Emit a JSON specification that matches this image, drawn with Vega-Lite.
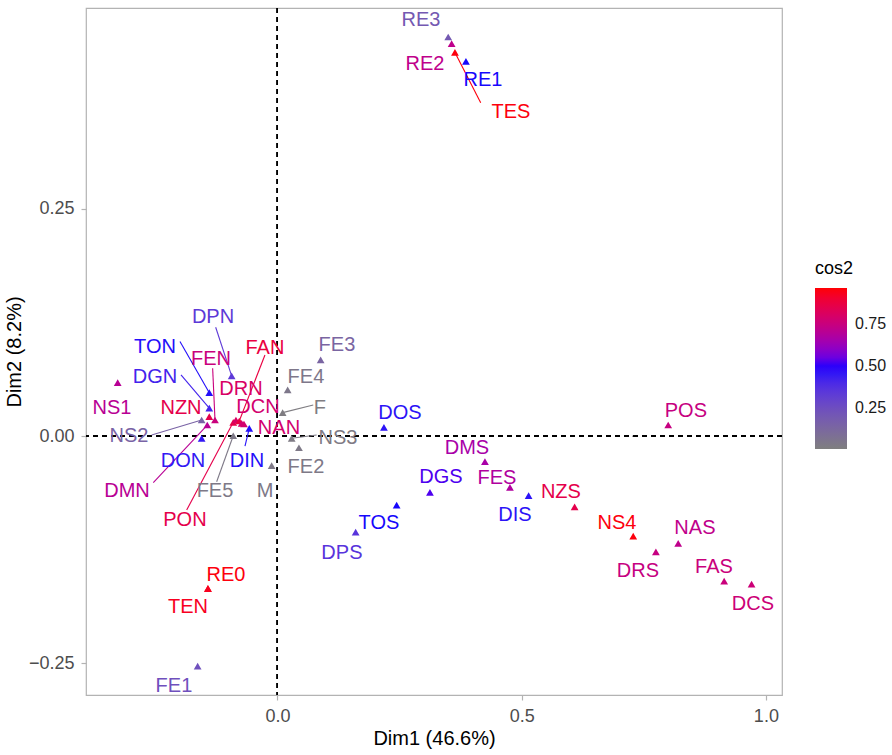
{
  "$schema": "https://vega.github.io/schema/vega-lite/v6.json",
  "width": 696,
  "height": 687,
  "autosize": "none",
  "padding": {"left": 86, "top": 8, "right": 110, "bottom": 60},
  "background": "white",
  "config": {
    "font": "Liberation Sans",
    "view": {"stroke": "#B3B3B3", "strokeWidth": 1.2},
    "axis": {
      "grid": false,
      "domain": false,
      "tickColor": "#B3B3B3",
      "tickSize": 5,
      "tickWidth": 1.2,
      "labelColor": "#4D4D4D",
      "labelFontSize": 18,
      "labelPadding": 7,
      "titleColor": "#000000",
      "titleFontSize": 20,
      "titleFontWeight": "normal"
    }
  },
  "resolve": {"legend": {"color": "independent", "fill": "independent", "stroke": "independent"}},
  "datasets": {
    "pts": [
      {"name": "RE3", "x": 0.3496, "y": 0.4391, "cos2": 0.20, "lx": 0.2938, "ly": 0.4581},
      {"name": "RE2", "x": 0.3566, "y": 0.4317, "cos2": 0.72, "lx": 0.3019, "ly": 0.4097},
      {"name": "TES", "x": 0.3634, "y": 0.4221, "cos2": 0.95, "lx": 0.4780, "ly": 0.3568, "sx": 0.4161, "sy": 0.3667},
      {"name": "RE1", "x": 0.3859, "y": 0.4122, "cos2": 0.48, "lx": 0.4207, "ly": 0.3921},
      {"name": "NS1", "x": -0.3271, "y": 0.0587, "cos2": 0.70, "lx": -0.3388, "ly": 0.0308},
      {"name": "DPN", "x": -0.0938, "y": 0.0661, "cos2": 0.34, "lx": -0.1320, "ly": 0.1311, "sx": -0.1265, "sy": 0.1197},
      {"name": "TON", "x": -0.1396, "y": 0.0477, "cos2": 0.47, "lx": -0.2508, "ly": 0.0980, "sx": -0.1996, "sy": 0.1039},
      {"name": "DGN", "x": -0.1396, "y": 0.0308, "cos2": 0.42, "lx": -0.2508, "ly": 0.0650, "sx": -0.1975, "sy": 0.0672},
      {"name": "NZN", "x": -0.1396, "y": 0.0213, "cos2": 0.85, "lx": -0.1975, "ly": 0.0308},
      {"name": "FEN", "x": -0.1279, "y": 0.0176, "cos2": 0.75, "lx": -0.1361, "ly": 0.0848, "sx": -0.1327, "sy": 0.0746},
      {"name": "NS2", "x": -0.1552, "y": 0.0176, "cos2": 0.15, "lx": -0.3040, "ly": 0.0, "sx": -0.2575, "sy": 0.0011},
      {"name": "DMN", "x": -0.1437, "y": 0.0121, "cos2": 0.70, "lx": -0.3081, "ly": -0.0606, "sx": -0.2542, "sy": -0.0514},
      {"name": "DON", "x": -0.1552, "y": -0.0025, "cos2": 0.45, "lx": -0.1934, "ly": -0.0275},
      {"name": "PON", "x": -0.0905, "y": 0.0151, "cos2": 0.85, "lx": -0.1894, "ly": -0.0925, "sx": -0.1859, "sy": -0.0815},
      {"name": "DRN", "x": -0.0850, "y": 0.0176, "cos2": 0.80, "lx": -0.0747, "ly": 0.0518},
      {"name": "FAN", "x": -0.0782, "y": 0.0165, "cos2": 0.87, "lx": -0.0256, "ly": 0.0969, "sx": -0.0256, "sy": 0.0892},
      {"name": "DCN", "x": -0.0733, "y": 0.0140, "cos2": 0.78, "lx": -0.0399, "ly": 0.0319},
      {"name": "NAN", "x": -0.0686, "y": 0.0132, "cos2": 0.78, "lx": 0.0031, "ly": 0.0088},
      {"name": "DIN", "x": -0.0577, "y": 0.0085, "cos2": 0.47, "lx": -0.0624, "ly": -0.0275, "sx": -0.0665, "sy": -0.0110},
      {"name": "FE5", "x": -0.0905, "y": 0.0003, "cos2": 0.04, "lx": -0.1279, "ly": -0.0606, "sx": -0.1245, "sy": -0.0503},
      {"name": "FE4", "x": 0.0209, "y": 0.0507, "cos2": 0.05, "lx": 0.0583, "ly": 0.0650},
      {"name": "FE3", "x": 0.0884, "y": 0.0837, "cos2": 0.14, "lx": 0.1218, "ly": 0.1002},
      {"name": "F", "x": 0.0106, "y": 0.0257, "cos2": 0.02, "lx": 0.0870, "ly": 0.0308, "sx": 0.0733, "sy": 0.0341},
      {"name": "NS3", "x": 0.0291, "y": -0.0025, "cos2": 0.03, "lx": 0.1238, "ly": -0.0022, "sx": 0.0802, "sy": 0.0011},
      {"name": "FE2", "x": 0.0440, "y": -0.0129, "cos2": 0.04, "lx": 0.0583, "ly": -0.0341},
      {"name": "M", "x": -0.0119, "y": -0.0327, "cos2": 0.04, "lx": -0.0256, "ly": -0.0606},
      {"name": "DOS", "x": 0.2180, "y": 0.0096, "cos2": 0.46, "lx": 0.2508, "ly": 0.0253},
      {"name": "DMS", "x": 0.4248, "y": -0.0283, "cos2": 0.66, "lx": 0.3879, "ly": -0.0132},
      {"name": "FES", "x": 0.4760, "y": -0.0565, "cos2": 0.68, "lx": 0.4493, "ly": -0.0463},
      {"name": "DIS", "x": 0.5142, "y": -0.0657, "cos2": 0.46, "lx": 0.4862, "ly": -0.0870},
      {"name": "NZS", "x": 0.6084, "y": -0.0779, "cos2": 0.85, "lx": 0.5803, "ly": -0.0617},
      {"name": "DGS", "x": 0.3122, "y": -0.0620, "cos2": 0.52, "lx": 0.3347, "ly": -0.0452},
      {"name": "TOS", "x": 0.2440, "y": -0.0760, "cos2": 0.48, "lx": 0.2078, "ly": -0.0958},
      {"name": "DPS", "x": 0.1601, "y": -0.1057, "cos2": 0.36, "lx": 0.1320, "ly": -0.1289},
      {"name": "POS", "x": 0.8000, "y": 0.0121, "cos2": 0.74, "lx": 0.8362, "ly": 0.0275},
      {"name": "NS4", "x": 0.7284, "y": -0.1101, "cos2": 0.95, "lx": 0.6950, "ly": -0.0958},
      {"name": "NAS", "x": 0.8205, "y": -0.1182, "cos2": 0.72, "lx": 0.8547, "ly": -0.1013},
      {"name": "DRS", "x": 0.7748, "y": -0.1274, "cos2": 0.74, "lx": 0.7380, "ly": -0.1487},
      {"name": "FAS", "x": 0.9146, "y": -0.1597, "cos2": 0.75, "lx": 0.8936, "ly": -0.1443},
      {"name": "DCS", "x": 0.9707, "y": -0.1630, "cos2": 0.76, "lx": 0.9734, "ly": -0.1850},
      {"name": "RE0", "x": -0.1423, "y": -0.1677, "cos2": 0.95, "lx": -0.1054, "ly": -0.1531},
      {"name": "TEN", "x": -0.1423, "y": -0.1680, "cos2": 0.93, "lx": -0.1832, "ly": -0.1883},
      {"name": "FE1", "x": -0.1634, "y": -0.2533, "cos2": 0.24, "lx": -0.2119, "ly": -0.2753}
    ]
  },
  "data": {"name": "pts"},
  "layer": [
    {
      "mark": {"type": "rule", "strokeDash": [5, 4], "color": "black", "strokeWidth": 1},
      "encoding": {
        "x": {"datum": 0, "type": "quantitative", "scale": {"domain": [-0.392, 1.033], "nice": false, "zero": false}}
      }
    },
    {
      "mark": {"type": "rule", "strokeDash": [5, 4], "color": "black", "strokeWidth": 1},
      "encoding": {
        "y": {"datum": 0, "type": "quantitative", "scale": {"domain": [-0.285, 0.471], "nice": false, "zero": false}}
      }
    },
    {
      "transform": [{"filter": "isValid(datum.sx)"}],
      "mark": {"type": "rule", "strokeWidth": 1.1},
      "encoding": {
        "x": {"field": "x", "type": "quantitative"},
        "y": {"field": "y", "type": "quantitative"},
        "x2": {"field": "sx"},
        "y2": {"field": "sy"},
        "color": {"field": "cos2", "type": "quantitative", "legend": null}
      }
    },
    {
      "mark": {"type": "point", "shape": "triangle-up", "filled": true, "size": 60, "opacity": 1},
      "encoding": {
        "x": {"field": "x", "type": "quantitative", "scale": {"domain": [-0.392, 1.033], "nice": false, "zero": false},
              "axis": {"values": [0, 0.5, 1], "format": ".1f", "title": "Dim1 (46.6%)", "titlePadding": 3}},
        "y": {"field": "y", "type": "quantitative", "scale": {"domain": [-0.285, 0.471], "nice": false, "zero": false},
              "axis": {"values": [-0.25, 0, 0.25], "format": ".2f", "title": "Dim2 (8.2%)", "titlePadding": 4}},
        "color": {
          "field": "cos2", "type": "quantitative",
          "scale": {"domain": [0.01, 0.49, 0.96], "range": ["#7F7F7F", "#0000FF", "#FF0000"], "interpolate": "lab"},
          "legend": {
            "type": "gradient",
            "title": "cos2", "orient": "none", "legendX": 729, "legendY": 252,
            "values": [0.25, 0.5, 0.75], "format": ".2f", "direction": "vertical",
            "gradientLength": 161, "gradientThickness": 32, "gradientStrokeWidth": 0,
            "titleFontSize": 18, "titleFontWeight": "normal", "titleColor": "#000000", "titlePadding": 10,
            "labelFontSize": 16, "labelColor": "#1A1A1A", "labelOffset": 8
          }
        }
      }
    },
    {
      "mark": {"type": "text", "fontSize": 20, "align": "center", "baseline": "middle"},
      "encoding": {
        "x": {"field": "lx", "type": "quantitative"},
        "y": {"field": "ly", "type": "quantitative"},
        "text": {"field": "name"},
        "color": {"field": "cos2", "type": "quantitative", "legend": null}
      }
    }
  ]
}
